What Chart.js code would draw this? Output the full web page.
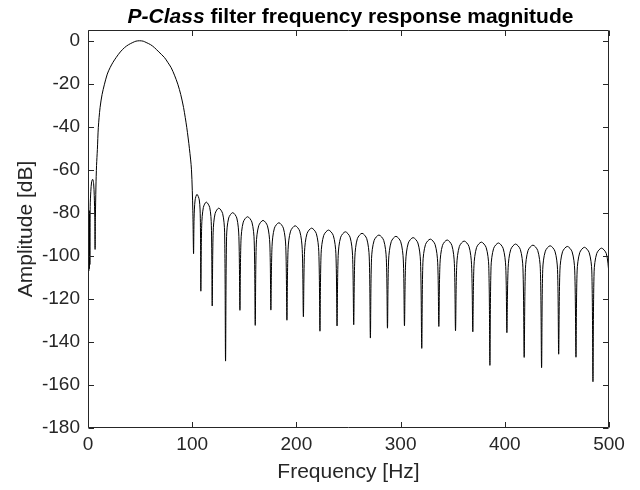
<!DOCTYPE html>
<html>
<head>
<meta charset="utf-8">
<script src="https://cdn.jsdelivr.net/npm/chart.js@4.4.1/dist/chart.umd.min.js"></script>
<style>
html,body{margin:0;padding:0;background:#fff;}
#wrap{position:relative;width:640px;height:490px;}
canvas{display:block;}
#title{position:absolute;left:90px;width:521px;top:4px;text-align:center;white-space:nowrap;
  font:bold 21px "Liberation Sans",Arial,Helvetica,sans-serif;color:#000;line-height:24px;}
</style>
</head>
<body>
<div id="wrap">
<canvas id="c" width="640" height="490"></canvas>
<div id="title"><i>P-Class</i> filter frequency response magnitude</div>
</div>
<script>
// Frequency points (Hz)
const freqHz = [
  0, 0.25, 0.5, 0.75, 1.0, 1.25, 1.5, 1.8, 2.1, 2.7, 3.5, 4.5, 5.4, 6.0, 6.5, 6.8, 7.1, 7.6, 8.2, 9.0,
  9.9, 11.6, 13.5, 15.8, 18.5, 21.2, 24.0, 27.0, 31.0, 35.0, 39.0, 43.0, 46.0, 49.5, 53.0, 55.8, 60.0,
  63.8, 68.0, 73.4, 76.5, 79.8, 83.0, 86.2, 89.0, 91.7, 94.8, 97.3, 99.3, 100.6, 101.3,
  101.8, 102.8, 104.6, 106.8, 107.8, 108.3,
  109.1, 110.7, 113.5, 116.8, 118.4, 119.2,
  120.1, 122.0, 125.5, 129.2, 131.1, 132.0,
  133.0, 135.0, 138.9, 142.8, 144.8, 145.8,
  146.8, 149.0, 153.1, 157.3, 159.5, 160.5,
  161.5, 163.8, 168.0, 172.2, 174.5, 175.5,
  176.6, 178.9, 183.2, 187.5, 189.8, 190.9,
  192.0, 194.4, 198.8, 203.2, 205.6, 206.7,
  207.8, 210.2, 214.6, 219.1, 221.5, 222.6,
  223.7, 226.2, 230.8, 235.4, 237.9, 239.0,
  240.1, 242.5, 247.0, 251.5, 253.9, 255.0,
  256.1, 258.5, 263.0, 267.5, 269.9, 271.0,
  272.1, 274.6, 279.2, 283.8, 286.3, 287.4,
  288.5, 291.0, 295.5, 300.1, 302.6, 303.7,
  304.9, 307.4, 312.0, 316.6, 319.1, 320.3,
  321.4, 323.9, 328.5, 333.1, 335.6, 336.7,
  337.8, 340.2, 344.7, 349.2, 351.6, 352.7,
  353.9, 356.4, 361.0, 365.6, 368.1, 369.3,
  370.4, 372.9, 377.5, 382.1, 384.6, 385.7,
  386.8, 389.3, 393.9, 398.4, 400.9, 402.0,
  403.2, 405.7, 410.3, 414.9, 417.4, 418.6,
  419.8, 422.3, 427.0, 431.6, 434.1, 435.3,
  436.4, 438.9, 443.5, 448.1, 450.6, 451.7,
  452.9, 455.4, 460.0, 464.6, 467.1, 468.3,
  469.4, 471.9, 476.4, 481.0, 483.5, 484.6,
  485.7, 488.2, 492.8, 497.4, 500
];
// Magnitude (dB) at each frequency point
const ampDb = [
  -77, -108, -79, -107, -80, -106, -79, -104, -77, -70, -65.5, -64.4, -66.5, -72, -82, -97, -82, -68, -58, -50.5,
  -40.4, -31, -25, -20.2, -15.5, -12.5, -10, -7.8, -5.2, -3.2, -1.8, -0.8, -0.2, 0, -0.2, -0.8, -1.8,
  -3.2, -5.2, -7.8, -10, -12.5, -16, -20.2, -25, -31, -40.4, -50, -60, -79, -99,
  -82.5, -74, -71.4, -74, -82.5, -116.4,
  -86, -77.5, -75, -77.5, -86, -123.3,
  -89, -80.3, -77.8, -80.3, -89, -148.9,
  -91, -82.4, -79.9, -82.4, -91, -125.3,
  -93, -84.3, -81.8, -84.3, -93, -132.3,
  -94.5, -86, -83.5, -86, -94.5, -125.2,
  -95.6, -87.1, -84.6, -87.1, -95.6, -129.9,
  -97, -88.5, -86, -88.5, -97, -128.3,
  -98.1, -89.6, -87.1, -89.6, -98.1, -135,
  -99, -90.5, -88, -90.5, -99, -132.6,
  -99.8, -91.3, -88.8, -91.3, -99.8, -132,
  -100.5, -92, -89.5, -92, -100.5, -138.2,
  -101.3, -92.8, -90.3, -92.8, -101.3, -133.6,
  -101.9, -93.4, -90.9, -93.4, -101.9, -132.5,
  -102.5, -94, -91.5, -94, -102.5, -143,
  -103.2, -94.7, -92.2, -94.7, -103.2, -132.8,
  -103.6, -95.1, -92.6, -95.1, -103.6, -134.8,
  -104.1, -95.6, -93.1, -95.6, -104.1, -135.3,
  -104.6, -96.1, -93.6, -96.1, -104.6, -150.9,
  -105, -96.5, -94, -96.5, -105, -135.7,
  -105.5, -97, -94.5, -97, -105.5, -147.2,
  -106, -97.5, -95, -97.5, -106, -152,
  -106.3, -97.8, -95.3, -97.8, -106.3, -145.7,
  -106.6, -98.1, -95.6, -98.1, -106.6, -147.1,
  -107, -98.5, -96, -98.5, -107, -158.5,
  -107.4, -98.9, -96.4, -98.9, -108
];
const xTickValues = [0, 100, 200, 300, 400, 500];
const yTickValues = [-180, -160, -140, -120, -100, -80, -60, -40, -20, 0];
const xTitle = 'Frequency [Hz]';
const yTitle = 'Amplitude [dB]';

const FONT = '"Liberation Sans", Arial, Helvetica, sans-serif';
const AXIS = '#262626';

const boxPlugin = {
  id: 'matlabBox',
  afterDraw(chart) {
    const { ctx, chartArea, scales } = chart;
    const L = Math.round(chartArea.left) + 0.5, R = Math.round(chartArea.right) - 0.5;
    const T = Math.round(chartArea.top) + 0.5, B = Math.round(chartArea.bottom) - 0.5;
    const tl = 5.5;
    ctx.save();
    ctx.strokeStyle = AXIS;
    ctx.lineWidth = 1;
    ctx.beginPath();
    ctx.rect(L, T, R - L, B - T);
    scales.x.ticks.forEach(t => {
      const p = Math.round(scales.x.getPixelForValue(t.value)) + 0.5;
      ctx.moveTo(p, B); ctx.lineTo(p, B - tl);
      ctx.moveTo(p, T); ctx.lineTo(p, T + tl);
    });
    scales.y.ticks.forEach(t => {
      const p = Math.round(scales.y.getPixelForValue(t.value)) + 0.5;
      ctx.moveTo(L, p); ctx.lineTo(L + tl, p);
      ctx.moveTo(R, p); ctx.lineTo(R - tl, p);
    });
    ctx.stroke();
    ctx.restore();
  }
};

new Chart(document.getElementById('c').getContext('2d'), {
  type: 'line',
  data: {
    datasets: [{
      data: freqHz.map((f, i) => ({ x: f, y: ampDb[i] })),
      borderColor: '#000',
      borderWidth: 1,
      pointRadius: 0,
      tension: 0.3,
      fill: false
    }]
  },
  options: {
    responsive: false,
    animation: false,
    devicePixelRatio: 1,
    layout: { padding: { top: 30, right: 31, left: 0, bottom: 0 } },
    plugins: { legend: { display: false }, tooltip: { enabled: false }, title: { display: false } },
    scales: {
      x: {
        type: 'linear', min: 0, max: 500,
        afterBuildTicks: s => { s.ticks = xTickValues.map(v => ({ value: v })); },
        afterFit: s => { s.height = 62; },
        grid: { display: false },
        border: { display: false },
        ticks: { color: AXIS, font: { family: FONT, size: 19 }, padding: -3, maxRotation: 0, autoSkip: false },
        title: { display: true, text: xTitle, color: AXIS, font: { family: FONT, size: 21 }, padding: { top: 0, bottom: 5 } }
      },
      y: {
        type: 'linear', min: -180, max: 5,
        afterBuildTicks: s => { s.ticks = yTickValues.map(v => ({ value: v })); },
        afterFit: s => { s.width = 88; },
        grid: { display: false },
        border: { display: false },
        ticks: { color: AXIS, font: { family: FONT, size: 19 }, padding: 0, autoSkip: false },
        title: { display: true, text: yTitle, color: AXIS, font: { family: FONT, size: 21 }, padding: { top: 14, bottom: 0 } }
      }
    }
  },
  plugins: [boxPlugin]
});
</script>
</body>
</html>
